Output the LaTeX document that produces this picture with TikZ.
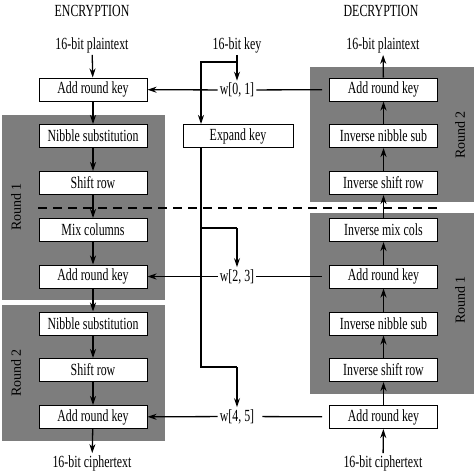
\documentclass[tikz,border=0pt]{standalone}
\usepackage{fontspec}
\setmainfont{Liberation Serif}[FakeStretch=0.7]
\newfontfamily\roundfont{Liberation Serif}
\usetikzlibrary{arrows.meta}
\definecolor{roundgray}{RGB}{125,125,125}
\tikzset{
  stage/.style={shape=rectangle,draw=black,fill=white,line width=1pt,minimum width=108pt,minimum height=23pt,inner sep=0pt,align=center},
  lbl/.style={inner sep=2pt,align=center},
  flow/.style={-{Stealth[length=9pt,width=6pt]},draw=black,line width=1.3pt},
  feed/.style={-,draw=black,line width=1.3pt},
  roundlbl/.style={rotate=90,font=\roundfont\fontsize{14}{16}\selectfont}
}
\begin{document}
\begin{tikzpicture}[x=1pt,y=-1pt,font=\fontsize{17}{19}\selectfont]
\useasboundingbox (0,0) rectangle (474,474);
% round backgrounds
\fill[roundgray] (2,115) rectangle (165,300);
\fill[roundgray] (2,305) rectangle (165,441);
\fill[roundgray] (310,67) rectangle (474,202);
\fill[roundgray] (310,213) rectangle (474,394);
\node[roundlbl] (r1e) at (16,207) {Round 1};
\node[roundlbl] (r2e) at (16,373) {Round 2};
\node[roundlbl] (r2d) at (460,135) {Round 2};
\node[roundlbl] (r1d) at (460,300) {Round 1};

\node[lbl] (enchead) at (92,11) {ENCRYPTION};
\node[lbl] (dechead) at (381,11) {DECRYPTION};

% encryption
\node[lbl] (encin) at (92,45) {16-bit plaintext};
\node[stage] (eark1) at (93,89.5) {Add round key};
\node[stage] (ens1) at (93,136) {Nibble substitution};
\node[stage] (esr1) at (93,183) {Shift row};
\node[stage] (emc) at (93,230) {Mix columns};
\node[stage] (eark2) at (93,276.5) {Add round key};
\node[stage] (ens2) at (93,323.5) {Nibble substitution};
\node[stage] (esr2) at (93,370) {Shift row};
\node[stage] (eark3) at (93,417) {Add round key};
\node[lbl] (encout) at (92,463) {16-bit ciphertext};

% decryption
\node[lbl] (decout) at (383,45) {16-bit plaintext};
\node[stage] (dark1) at (383.5,89.5) {Add round key};
\node[stage] (dins1) at (383.5,136) {Inverse nibble sub};
\node[stage] (disr1) at (383.5,183) {Inverse shift row};
\node[stage] (dimc) at (383.5,230) {Inverse mix cols};
\node[stage] (dark2) at (383.5,276.5) {Add round key};
\node[stage] (dins2) at (383.5,323.5) {Inverse nibble sub};
\node[stage] (disr2) at (383.5,370) {Inverse shift row};
\node[stage] (dark3) at (383.5,417) {Add round key};
\node[lbl] (decin) at (383,463) {16-bit ciphertext};

% key schedule
\node[lbl] (keyin) at (237,45) {16-bit key};
\node[lbl] (w01) at (237,90) {w[0, 1]};
\node[stage,minimum width=110pt] (expand) at (238,136) {Expand key};
\node[lbl] (w23) at (237,276.5) {w[2, 3]};
\node[lbl] (w45) at (237,416.5) {w[4, 5]};
\coordinate (ksplit) at (237,62);
\coordinate (kleft) at (201,62);
\coordinate (ktap) at (201,228);
\coordinate (ktapr) at (237,228);
\coordinate (kend) at (201,367);
\coordinate (kendr) at (237,367);

\draw [flow] (encin) -- (eark1);
\draw [flow] (eark1) -- (ens1);
\draw [flow] (ens1) -- (esr1);
\draw [flow] (esr1) -- (emc);
\draw [flow] (emc) -- (eark2);
\draw [flow] (eark2) -- (ens2);
\draw [flow] (ens2) -- (esr2);
\draw [flow] (esr2) -- (eark3);
\draw [flow] (eark3) -- (encout);

\draw [flow] (decin) -- (dark3);
\draw [flow] (dark3) -- (disr2);
\draw [flow] (disr2) -- (dins2);
\draw [flow] (dins2) -- (dark2);
\draw [flow] (dark2) -- (dimc);
\draw [flow] (dimc) -- (disr1);
\draw [flow] (disr1) -- (dins1);
\draw [flow] (dins1) -- (dark1);
\draw [flow] (dark1) -- (decout);

\draw [flow] (keyin) -- (w01);
\draw [flow] (ksplit) -- (kleft) -- (kleft |- expand.north);
\draw [feed] (kleft |- expand.south) -- (kend) -- (kendr);
\draw [flow] (kendr) -- (w45);
\draw [feed] (ktap) -- (ktapr);
\draw [flow] (ktapr) -- (w23);

\draw [flow] (w01) -- (eark1);
\draw [flow] (w23) -- (eark2);
\draw [flow] (w45) -- (eark3);
\draw [feed,shorten >=7pt] (w01) -- (dark1);
\draw [feed,shorten >=7pt] (w23) -- (dark2);
\draw [feed,shorten >=7pt,shorten <=6pt] (w45) -- (dark3);

\draw [black,line width=2.4pt,dash pattern=on 9pt off 6pt] (38,208) -- (437,208);
\end{tikzpicture}
\end{document}
